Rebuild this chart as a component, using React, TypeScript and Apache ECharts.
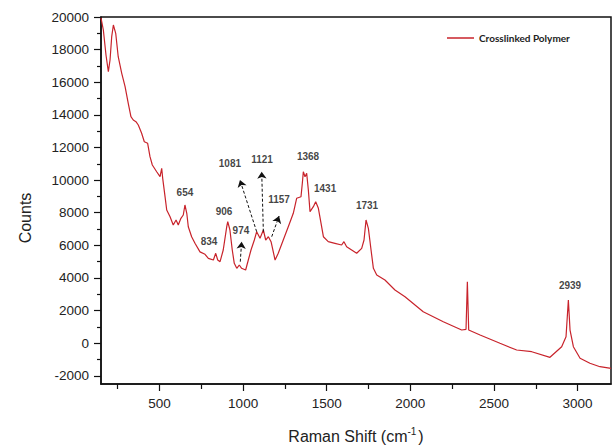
import React, { useEffect, useRef } from "react";
import * as echarts from "echarts";

const seriesName = "Crosslinked Polymer";

const wavenumbers = [
  150, 164, 180, 194, 204, 214, 224, 238, 253, 274, 294, 313, 329, 343, 359, 373, 393, 409, 429, 443,
  457, 483, 503, 513, 519, 533, 543, 563, 582, 599, 612, 628, 642, 652, 663, 672, 692, 712, 742, 772,
  792, 822, 836, 848, 862, 881, 902, 908, 921, 935, 947, 962, 977, 991, 1015, 1031, 1047, 1067, 1081, 1101,
  1121, 1135, 1151, 1167, 1191, 1210, 1240, 1270, 1300, 1320, 1346, 1354, 1360, 1370, 1380, 1390, 1400, 1420, 1434, 1450,
  1466, 1480, 1509, 1549, 1589, 1603, 1619, 1649, 1679, 1709, 1723, 1735, 1749, 1765, 1779, 1799, 1848, 1908, 1968, 2077,
  2197, 2307, 2333, 2341, 2349, 2417, 2536, 2636, 2726, 2835, 2905, 2931, 2945, 2955, 2975, 3015, 3074, 3134, 3200,
];

const counts = [
  19950, 19203, 17653, 16646, 17364, 18792, 19510, 19001, 17566, 16548, 15727, 14709, 13887, 13685, 13581, 13379, 12870, 12355, 12257, 11435,
  10926, 10515, 10209, 10724, 10111, 8983, 8167, 7756, 7248, 7554, 7248, 7658, 7861, 8474, 7965, 7143, 6530, 6126, 5600, 5450,
  5206, 5102, 5513, 5102, 4997, 5715, 7143, 7450, 6941, 5715, 4899, 4593, 4795, 4593, 4489, 5102, 5715, 6328, 6837, 6432,
  6941, 6328, 6530, 6224, 5102, 5513, 6328, 7143, 7965, 8885, 8983, 9804, 10515, 10209, 10417, 9393, 8063, 8370, 8676, 8271,
  7352, 6530, 6224, 6126, 6021, 6224, 5917, 5715, 5513, 5819, 6328, 7554, 7045, 5715, 4593, 4182, 3875, 3262, 2851, 1932,
  1319, 810, 853, 3771, 810, 503, -5, -416, -521, -864, -214, 399, 2649, 810, -214, -925, -1231, -1440, -1538,
];

const peakLabels = ["654", "834", "906", "974", "1081", "1121", "1157", "1368", "1431", "1731", "2939"];
const peakLabelX = [652, 796, 886, 987, 921, 1113, 1215, 1388, 1490, 1741, 2955];
const peakLabelY = [9270, 6206, 8106, 6941, 10988, 11294, 8781, 11417, 9516, 8474, 3569];

// arrows: start (x, y) -> end (x, y)
const arrowStartX = [983, 1081, 1121, 1171];
const arrowStartY = [4998, 6837, 6837, 6531];
const arrowEndX = [991, 981, 1111, 1215];
const arrowEndY = [6224, 10007, 10516, 7800];

const xTickValues = [500, 1000, 1500, 2000, 2500, 3000];
const xMinorTickValues = [250, 750, 1250, 1750, 2250, 2750];
const yTickValues = [-2000, 0, 2000, 4000, 6000, 8000, 10000, 12000, 14000, 16000, 18000, 20000];
const yMinorTickValues = [-1000, 1000, 3000, 5000, 7000, 9000, 11000, 13000, 15000, 17000, 19000];

const X_MIN = 150;
const X_MAX = 3200;
const Y_MIN = -2500;
const Y_MAX = 20000;

export default function App() {
  const ref = useRef<HTMLDivElement>(null);

  useEffect(() => {
    if (!ref.current) return;
    const chart = echarts.init(ref.current, null, { renderer: "svg" });

    const lineData = wavenumbers.map((w, i) => [w, counts[i]]);
    const labelData = peakLabels.map((t, i) => [peakLabelX[i], peakLabelY[i], t]);
    const arrowData = arrowStartX.map((sx, i) => [
      { coord: [sx, arrowStartY[i]] },
      { coord: [arrowEndX[i], arrowEndY[i]] },
    ]);

    const axisFont = { fontFamily: "Liberation Sans, Arial, sans-serif", fontSize: 13.5, color: "#222" };
    const plain = (v: number) => String(v);

    chart.setOption({
      animation: false,
      backgroundColor: "#fff",
      grid: {
        left: 101,
        right: 3,
        top: 17,
        bottom: 64,
        show: true,
        borderColor: "#111",
        borderWidth: 1.5,
        outerBoundsMode: "none",
      },
      legend: {
        data: [seriesName],
        left: 447,
        top: 33,
        padding: 0,
        icon: "rect",
        itemWidth: 27,
        itemHeight: 1.5,
        itemGap: 4,
        textStyle: { fontFamily: "Lato, sans-serif", fontWeight: "bold", fontSize: 10, color: "#222" },
      },
      xAxis: [
        {
          type: "value",
          min: X_MIN,
          max: X_MAX,
          splitLine: { show: false },
          axisLine: { show: true, onZero: false, lineStyle: { color: "#111", width: 1.5 } },
          axisTick: { show: true, inside: false, length: 7, customValues: xTickValues, lineStyle: { color: "#111", width: 1.2 } },
          axisLabel: { show: true, margin: 12, customValues: xTickValues, formatter: plain, ...axisFont },
        },
        {
          type: "value",
          min: X_MIN,
          max: X_MAX,
          position: "bottom",
          offset: 0,
          splitLine: { show: false },
          axisLine: { show: false, onZero: false },
          axisTick: { show: true, inside: false, length: 5, customValues: xMinorTickValues, lineStyle: { color: "#111", width: 1.2 } },
          axisLabel: { show: false },
        },
      ],
      yAxis: [
        {
          type: "value",
          min: Y_MIN,
          max: Y_MAX,
          splitLine: { show: false },
          axisLine: { show: true, onZero: false, lineStyle: { color: "#111", width: 1.5 } },
          axisTick: { show: true, inside: false, length: 7, customValues: yTickValues, lineStyle: { color: "#111", width: 1.2 } },
          axisLabel: { show: true, margin: 12, customValues: yTickValues, formatter: plain, ...axisFont },
        },
        {
          type: "value",
          min: Y_MIN,
          max: Y_MAX,
          position: "left",
          offset: 0,
          splitLine: { show: false },
          axisLine: { show: false, onZero: false },
          axisTick: { show: true, inside: false, length: 4, customValues: yMinorTickValues, lineStyle: { color: "#111", width: 1.2 } },
          axisLabel: { show: false },
        },
      ],
      series: [
        {
          name: seriesName,
          type: "line",
          data: lineData,
          xAxisIndex: 0,
          yAxisIndex: 0,
          showSymbol: false,
          symbol: "none",
          lineStyle: { color: "#c8232b", width: 1.2 },
          itemStyle: { color: "#c8232b" },
          clip: true,
          silent: true,
        },
        {
          name: "labels",
          type: "scatter",
          data: labelData,
          xAxisIndex: 0,
          yAxisIndex: 0,
          symbolSize: 0,
          silent: true,
          label: {
            show: true,
            position: "inside",
            formatter: (p: any) => p.data[2],
            fontFamily: "Liberation Sans, Arial, sans-serif",
            fontWeight: "bold",
            fontSize: 10,
            color: "#111",
          },
          markLine: {
            silent: true,
            symbol: ["none", "arrow"],
            symbolSize: 7,
            label: { show: false },
            lineStyle: { color: "#111", type: [3, 2], width: 1 },
            data: arrowData,
          },
        },
      ],
      graphic: [
        {
          type: "text",
          x: 356,
          y: 436,
          style: {
            text: "Raman Shift (cm{sup|-1})",
            align: "center",
            verticalAlign: "middle",
            fontFamily: "Liberation Sans, Arial, sans-serif",
            fontSize: 16,
            fill: "#222",
            rich: {
              sup: { fontSize: 10, padding: [0, 2, 9, 0], fontFamily: "Liberation Sans, Arial, sans-serif", fill: "#222" },
            },
          },
        },
        {
          type: "text",
          x: 25,
          y: 218,
          rotation: Math.PI / 2,
          style: {
            text: "Counts",
            align: "center",
            verticalAlign: "middle",
            fontFamily: "Liberation Sans, Arial, sans-serif",
            fontSize: 16,
            fill: "#222",
          },
        },
      ],
    });

    return () => chart.dispose();
  }, []);

  return <div ref={ref} style={{ width: 614, height: 448, position: "absolute", left: 0, top: 0 }} />;
}
